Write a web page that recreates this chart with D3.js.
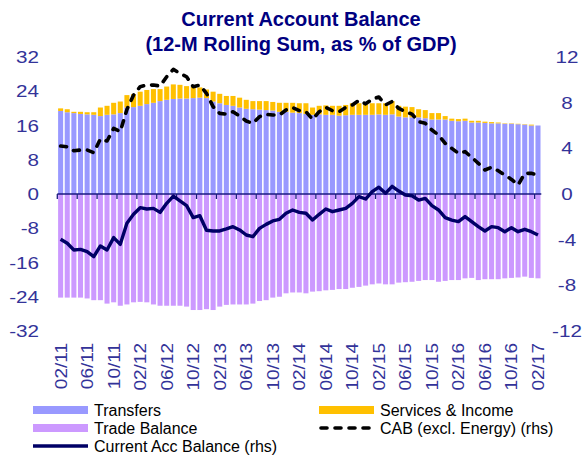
<!DOCTYPE html>
<html><head><meta charset="utf-8">
<script src="https://cdn.jsdelivr.net/npm/d3@7"></script>
<style>
body{margin:0;background:#fff}
text{font-family:Arial,"Liberation Sans",sans-serif}
</style>
</head><body>
<svg id="chart" width="587" height="458"></svg>
<script>
const months = ["02/11","03/11","04/11","05/11","06/11","07/11","08/11","09/11","10/11","11/11","12/11",
"01/12","02/12","03/12","04/12","05/12","06/12","07/12","08/12","09/12","10/12","11/12","12/12",
"01/13","02/13","03/13","04/13","05/13","06/13","07/13","08/13","09/13","10/13","11/13","12/13",
"01/14","02/14","03/14","04/14","05/14","06/14","07/14","08/14","09/14","10/14","11/14","12/14",
"01/15","02/15","03/15","04/15","05/15","06/15","07/15","08/15","09/15","10/15","11/15","12/15",
"01/16","02/16","03/16","04/16","05/16","06/16","07/16","08/16","09/16","10/16","11/16","12/16",
"01/17","02/17"];

const transfers = [19.4,19.1,18.9,18.7,18.6,18.5,18.2,18.5,18.6,18.9,20.2,20.3,20.6,21.0,21.3,21.7,22.0,22.2,22.3,22.3,22.4,22.5,22.4,21.6,
21.2,20.8,20.6,20.2,19.9,19.8,19.7,19.6,19.5,19.2,19.2,19.0,18.9,18.7,18.5,18.6,18.5,18.5,18.3,18.4,18.5,18.5,18.5,18.5,
18.6,18.5,18.6,18.1,17.9,17.9,17.9,17.7,17.4,17.4,17.4,17.1,17.0,17.1,16.7,16.7,16.6,16.5,16.5,16.4,16.4,16.3,16.2,16.0,16.0];

const servicesIncome = [0.6,0.7,0.3,0.5,0.5,0.6,2.0,2.1,2.7,2.7,2.9,3.0,3.3,3.3,3.2,2.8,3.1,3.4,3.2,2.9,2.7,2.4,2.0,2.3,
2.2,2.1,2.3,2.3,2.1,1.9,2.0,2.1,2.0,2.1,2.1,2.3,2.3,2.5,1.7,2.0,2.2,2.1,2.3,2.4,2.7,2.7,2.5,2.7,
2.6,2.7,3.1,2.5,2.5,2.4,1.9,1.9,1.5,1.5,0.8,0.5,0.5,0.5,0.4,0.4,0.3,0.3,0.2,0.1,0.1,0.1,0.1,0.2,0.0];

const tradeBalance = [-24.2,-24.2,-24.2,-24.2,-24.4,-24.8,-24.8,-25.6,-25.3,-26.1,-25.8,-25.3,-25.2,-25.3,-25.8,-26.1,-26.1,-26.1,-26.1,-26.3,-27.1,-27.1,-26.9,-27.1,
-26.3,-25.9,-25.8,-25.8,-25.8,-25.6,-25.0,-24.8,-24.2,-24.0,-23.2,-23.0,-23.0,-23.2,-22.8,-22.7,-22.5,-22.4,-22.2,-22.2,-21.9,-21.7,-21.4,-21.1,
-20.9,-21.1,-21.1,-20.7,-20.6,-20.5,-20.3,-20.1,-20.1,-20.5,-20.3,-20.1,-20.1,-19.7,-19.6,-20.1,-19.9,-19.9,-19.9,-19.7,-19.6,-19.5,-19.3,-19.6,-19.7];

const currentAcc = [-3.97,-4.32,-4.90,-4.85,-5.05,-5.49,-4.55,-4.90,-3.82,-4.41,-2.57,-1.78,-1.20,-1.31,-1.26,-1.61,-0.82,-0.18,-0.61,-1.02,-2.07,-1.90,-3.18,-3.24,
-3.24,-3.06,-2.86,-3.15,-3.59,-3.74,-3.01,-2.66,-2.36,-2.22,-1.69,-1.40,-1.61,-1.69,-2.28,-1.78,-1.31,-1.55,-1.40,-1.26,-0.82,-0.23,-0.44,0.20,
0.60,0.06,0.67,0.26,-0.09,-0.15,-0.53,-0.38,-1.02,-1.40,-2.07,-2.28,-2.42,-1.98,-2.42,-2.86,-3.24,-2.86,-2.95,-3.30,-2.95,-3.30,-3.09,-3.30,-3.59];

const cabExEnergy = [4.20,4.14,3.79,3.85,3.85,3.62,4.82,4.64,5.75,5.46,7.41,8.67,9.40,9.54,9.54,9.46,10.27,10.92,10.57,10.27,9.40,9.54,8.82,7.65,
7.06,7.00,7.21,6.83,6.39,6.19,6.77,6.98,6.92,6.92,7.36,7.56,7.30,7.21,6.54,7.21,7.59,7.30,7.21,7.59,7.80,8.20,7.90,8.30,
8.50,7.80,8.10,7.50,7.21,7.00,6.33,6.19,5.60,5.17,4.44,4.00,3.56,3.71,3.21,2.69,2.10,2.34,2.04,1.66,1.28,0.79,1.81,1.81,1.66];

const leftTicks = [-32,-24,-16,-8,0,8,16,24,32];
const rightTicks = [-12,-8,-4,0,4,8,12];
const labelEvery = 4, tickEvery = 3;

const titleLines = ["Current Account Balance","(12-M Rolling Sum, as % of GDP)"];

const C = {transfers:"#9999ff", services:"#ffc000", trade:"#cc99ff", cab:"#000066", axis:"#333399", title:"#000080"};

const svg = d3.select("#chart");
const m = {left:57.3, right:541.3, top:57, bottom:331};

const x = d3.scaleBand().domain(months).range([m.left, m.right]).paddingInner(0.24).paddingOuter(0.12);
const yL = d3.scaleLinear().domain([-32,32]).range([m.bottom, m.top]);
const yR = d3.scaleLinear().domain([-12,12]).range([m.bottom, m.top]);

// title
svg.append("g").selectAll("text").data(titleLines).join("text")
  .attr("x", 301).attr("y", (d,i)=>26+i*25)
  .attr("text-anchor","middle").attr("font-weight","bold").attr("font-size",20)
  .attr("fill",C.title).text(d=>d);

// bars
const data = months.map((mo,i)=>({mo, t:transfers[i], s:servicesIncome[i], tb:tradeBalance[i]}));
const bw = x.bandwidth();
svg.append("g").selectAll("rect").data(data).join("rect")
  .attr("x",d=>x(d.mo)).attr("width",bw)
  .attr("y",d=>yL(d.t)).attr("height",d=>yL(0)-yL(d.t)).attr("fill",C.transfers);
svg.append("g").selectAll("rect").data(data).join("rect")
  .attr("x",d=>x(d.mo)).attr("width",bw)
  .attr("y",d=>yL(d.t+d.s)).attr("height",d=>yL(d.t)-yL(d.t+d.s)).attr("fill",C.services);
svg.append("g").selectAll("rect").data(data).join("rect")
  .attr("x",d=>x(d.mo)).attr("width",bw)
  .attr("y",yL(0)).attr("height",d=>yL(d.tb)-yL(0)).attr("fill",C.trade);

// zero axis line with ticks at category boundaries
const step = x.step();
const firstEdge = x(months[0]) - (step - bw)/2;
const axG = svg.append("g");
axG.append("line").attr("x1",m.left).attr("x2",m.right).attr("y1",yL(0)).attr("y2",yL(0))
  .attr("stroke","#1a1a80").attr("stroke-width",1.3);
const tickIdx = d3.range(0, months.length+1, tickEvery);
axG.selectAll("line.t").data(tickIdx).join("line").attr("class","t")
  .attr("x1",i=>firstEdge + i*step).attr("x2",i=>firstEdge + i*step)
  .attr("y1",yL(0)).attr("y2",yL(0)+5).attr("stroke","#1a1a80").attr("stroke-width",1.3);

// lines
const lineR = d3.line().x((d,i)=>x(months[i])+bw/2).y(d=>yR(d));
svg.append("path").datum(cabExEnergy).attr("d",lineR).attr("fill","none")
  .attr("stroke","#000").attr("stroke-width",3.6).attr("stroke-dasharray","6,8").attr("stroke-linecap","round").attr("stroke-linejoin","round");
svg.append("path").datum(currentAcc).attr("d",lineR).attr("fill","none")
  .attr("stroke",C.cab).attr("stroke-width",3.4).attr("stroke-linejoin","round");

// axis labels
const sx = 1.25;
svg.append("g").selectAll("text").data(leftTicks).join("text")
  .attr("transform",d=>`translate(39,${yL(d)+6}) scale(${sx},1)`)
  .attr("text-anchor","end").attr("font-size",16.5).attr("fill",C.axis).text(d=>d);
svg.append("g").selectAll("text").data(rightTicks).join("text")
  .attr("transform",d=>`translate(567,${yR(d)+6}) scale(${sx},1)`)
  .attr("text-anchor","middle").attr("font-size",16.5).attr("fill",C.axis).text(d=>d);

// x labels
const xl = months.filter((d,i)=>i%labelEvery===0);
svg.append("g").selectAll("text").data(xl).join("text")
  .attr("transform",d=>`translate(${x(d)+bw/2+6},343) rotate(-90) scale(1.12,1)`)
  .attr("text-anchor","end").attr("font-size",17).attr("fill",C.axis).text(d=>d);

// legend
const lg = svg.append("g").attr("font-size",16).attr("fill","#000");
const legendItems = [
  {label:"Transfers", type:"rect", color:C.transfers, x:33, y:410},
  {label:"Services & Income", type:"rect", color:C.services, x:319, y:410},
  {label:"Trade Balance", type:"rect", color:C.trade, x:33, y:428},
  {label:"CAB (excl. Energy) (rhs)", type:"dash", color:"#000", x:319, y:428},
  {label:"Current Acc Balance (rhs)", type:"line", color:C.cab, x:33, y:446}
];
legendItems.forEach(it=>{
  if(it.type==="rect"){
    lg.append("rect").attr("x",it.x).attr("y",it.y-4).attr("width",55).attr("height",8).attr("fill",it.color);
  } else if(it.type==="dash"){
    lg.append("line").attr("x1",it.x+2).attr("x2",it.x+54).attr("y1",it.y).attr("y2",it.y)
      .attr("stroke",it.color).attr("stroke-width",3.6).attr("stroke-dasharray","6,8").attr("stroke-linecap","round");
  } else {
    lg.append("line").attr("x1",it.x).attr("x2",it.x+55).attr("y1",it.y).attr("y2",it.y)
      .attr("stroke",it.color).attr("stroke-width",3.4);
  }
  lg.append("text").attr("x",it.x+61).attr("y",it.y+6).text(it.label);
});
</script>
</body></html>
